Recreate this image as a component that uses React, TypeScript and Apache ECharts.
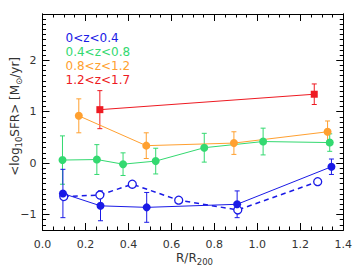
import React, { useEffect, useRef } from "react";
import * as echarts from "echarts";

// [R/R200, <log10 SFR>, error]
const blueFilled = [
  [0.095, -0.59, 0.47],
  [0.27, -0.83, 0.29],
  [0.485, -0.86, 0.29],
  [0.906, -0.8, 0.26],
  [1.345, -0.07, 0.15],
];
const blueOpen = [
  [0.099, -0.65],
  [0.267, -0.62],
  [0.418, -0.41],
  [0.634, -0.72],
  [0.909, -0.91],
  [1.281, -0.36],
];
const greenPts = [
  [0.093, 0.06, 0.47],
  [0.253, 0.07, 0.29],
  [0.375, -0.02, 0.22],
  [0.527, 0.04, 0.25],
  [0.753, 0.3, 0.28],
  [1.027, 0.42, 0.26],
  [1.337, 0.4, 0.17],
];
const orangePts = [
  [0.169, 0.92, 0.33],
  [0.483, 0.34, 0.25],
  [0.891, 0.39, 0.22],
  [1.327, 0.61, 0.21],
];
const redPts = [
  [0.267, 1.04, 0.37],
  [1.265, 1.34, 0.2],
];

const legendLabels = ["0<z<0.4", "0.4<z<0.8", "0.8<z<1.2", "1.2<z<1.7"];
const yMajor = [-1, 0, 1, 2];

const BLUE = "#1a1ae6";
const GREEN = "#33d970";
const ORANGE = "#ffa030";
const RED = "#ee1a22";
const COLORS = [BLUE, GREEN, ORANGE, RED];
const FONT = "DejaVu Sans";

function errSeries(data: number[][], color: string) {
  return {
    type: "custom",
    xAxisIndex: 0,
    yAxisIndex: 0,
    data,
    encode: { x: 0, y: 1 },
    z: 3,
    renderItem: (params: any, api: any) => {
      const x = api.value(0);
      const y = api.value(1);
      const e = api.value(2);
      const t = api.coord([x, y + e]);
      const b = api.coord([x, y - e]);
      const hw = 2.5;
      const st = { stroke: color, lineWidth: 1 };
      return {
        type: "group",
        children: [
          { type: "line", shape: { x1: t[0], y1: t[1], x2: b[0], y2: b[1] }, style: st },
          { type: "line", shape: { x1: t[0] - hw, y1: t[1], x2: t[0] + hw, y2: t[1] }, style: st },
          { type: "line", shape: { x1: b[0] - hw, y1: b[1], x2: b[0] + hw, y2: b[1] }, style: st },
        ],
      };
    },
  };
}

function lineSeries(data: number[][], color: string, symbol: string, size: number) {
  return {
    type: "line",
    xAxisIndex: 0,
    yAxisIndex: 0,
    data: data.map((d) => [d[0], d[1]]),
    symbol,
    symbolSize: size,
    showSymbol: true,
    lineStyle: { color, width: 1 },
    itemStyle: { color, borderWidth: 0 },
    z: 4,
  };
}

const tickStyle = { color: "#000", width: 1 };

export default function App() {
  const ref = useRef<HTMLDivElement>(null);
  useEffect(() => {
    if (!ref.current) return;
    const chart = echarts.init(ref.current, undefined, { renderer: "svg" });
    const minorVals: number[] = [];
    for (let i = -13; i <= 29; i++) {
      const v = i / 10;
      if (Math.abs(v - Math.round(v)) > 1e-6) minorVals.push(v);
    }
    const xBase = (pos: string, showLabel: boolean) => ({
      type: "value",
      position: pos,
      min: 0,
      max: 1.4,
      interval: 0.2,
      axisLine: { show: true, onZero: false, lineStyle: tickStyle },
      axisTick: { show: true, inside: true, length: 7, lineStyle: tickStyle },
      minorTick: { show: true, splitNumber: 4, length: 3.5, lineStyle: tickStyle },
      splitLine: { show: false },
      minorSplitLine: { show: false },
      axisLabel: {
        show: showLabel,
        margin: 9,
        fontFamily: FONT,
        fontSize: 11,
        color: "#333",
        formatter: (v: number) => v.toFixed(1),
      },
    });
    const yBase = (pos: string, vals: number[], len: number, showLabel: boolean) => ({
      type: "value",
      position: pos,
      min: -1.3,
      max: 2.9,
      axisLine: { show: true, onZero: false, lineStyle: tickStyle },
      axisTick: { show: true, inside: true, length: len, customValues: vals, lineStyle: tickStyle },
      splitLine: { show: false },
      axisLabel: {
        show: showLabel,
        customValues: yMajor,
        margin: 6,
        fontFamily: FONT,
        fontSize: 11,
        color: "#333",
        formatter: (v: number) => (v < 0 ? "\u2212" + Math.abs(v) : String(v)),
      },
    });
    const subRich = { s: { fontFamily: FONT, fontSize: 8.5, verticalAlign: "bottom", padding: [7, 0, 0, 0], fill: "#333" } };
    const option: any = {
      animation: false,
      grid: { left: 42.5, right: 7, top: 14, bottom: 38, containLabel: false },
      xAxis: [xBase("bottom", true), xBase("top", false)],
      yAxis: [
        yBase("left", yMajor, 7, true),
        yBase("left", minorVals, 3.5, false),
        yBase("right", yMajor, 7, false),
        yBase("right", minorVals, 3.5, false),
      ],
      series: [
        errSeries(redPts, RED),
        lineSeries(redPts, RED, "rect", 7),
        errSeries(orangePts, ORANGE),
        lineSeries(orangePts, ORANGE, "circle", 8),
        errSeries(greenPts, GREEN),
        lineSeries(greenPts, GREEN, "circle", 8),
        {
          type: "line",
          xAxisIndex: 0,
          yAxisIndex: 0,
          data: blueOpen,
          symbol: "circle",
          symbolSize: 8,
          showSymbol: true,
          lineStyle: { color: BLUE, width: 1.5, type: [5, 4] },
          itemStyle: { color: "#fff", borderColor: BLUE, borderWidth: 1.3 },
          z: 4,
        },
        errSeries(blueFilled, BLUE),
        lineSeries(blueFilled, BLUE, "circle", 8),
      ],
      graphic: [
        ...legendLabels.map((t, i) => ({
          type: "text",
          left: 65.5,
          top: 31.5 + i * 14.2,
          style: { text: t, fill: COLORS[i], font: `12px '${FONT}'` },
        })),
        {
          type: "text",
          left: 176,
          top: 252,
          style: {
            text: "R/R{s|200}",
            fill: "#333",
            fontFamily: FONT,
            fontSize: 12,
            rich: subRich,
          },
        },
        {
          type: "text",
          left: 9,
          top: 57,
          rotation: Math.PI / 2,
          style: {
            text: "<log{s|10}SFR> [M{s|\u2299}/yr]",
            fill: "#333",
            fontFamily: FONT,
            fontSize: 12,
            rich: subRich,
          },
        },
      ],
    };
    chart.setOption(option);
    return () => chart.dispose();
  }, []);
  return <div ref={ref} style={{ width: 355, height: 268, position: "absolute", left: 0, top: 0 }} />;
}
